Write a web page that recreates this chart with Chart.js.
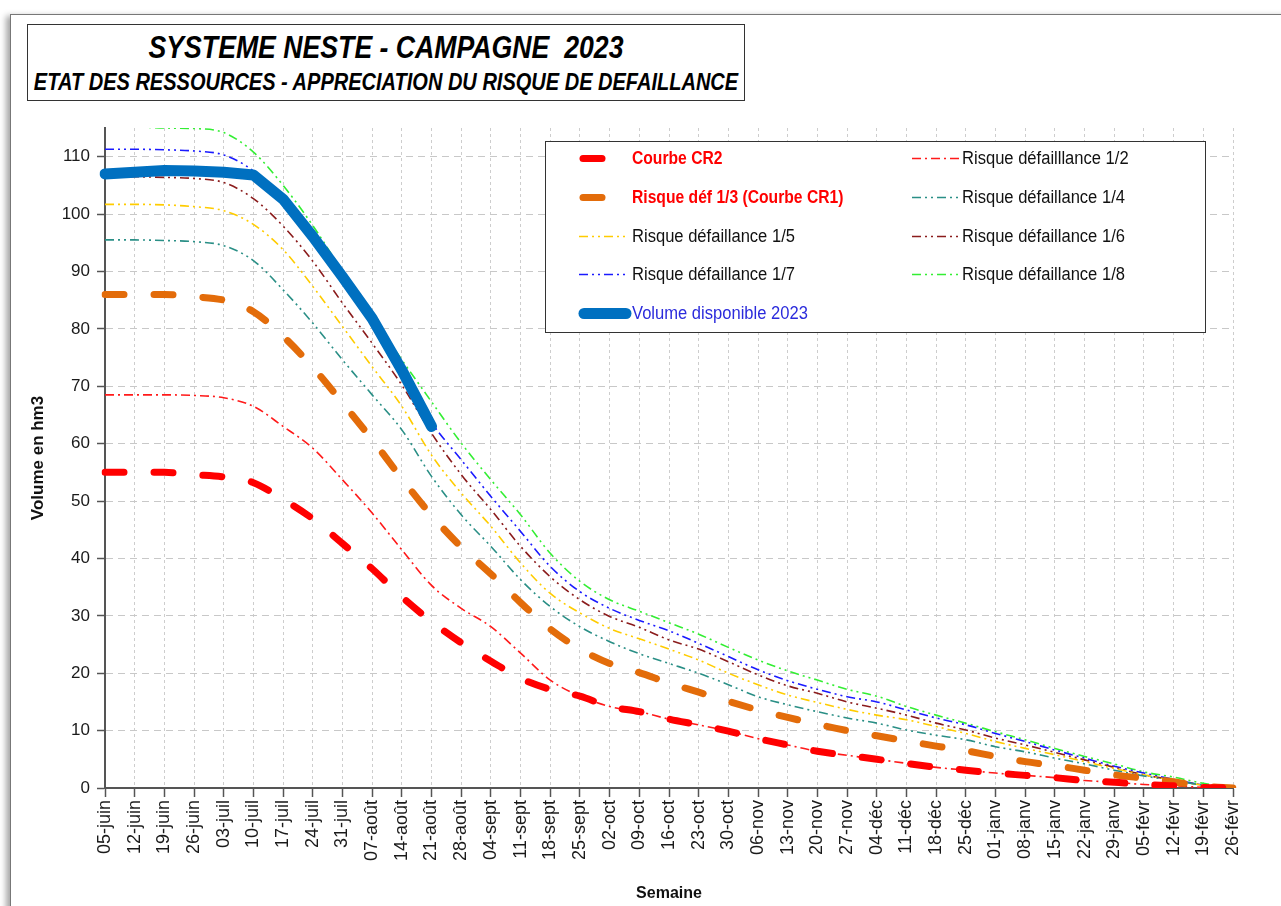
<!DOCTYPE html>
<html lang="fr">
<head>
<meta charset="utf-8">
<title>Système Neste - Campagne 2023</title>
<script src="https://cdn.jsdelivr.net/npm/chart.js@4.4.0/dist/chart.umd.min.js"></script>
<style>
  html, body { margin: 0; padding: 0; background: #fff; }
  body { width: 1281px; height: 906px; position: relative; overflow: hidden; }
  #frame { position: absolute; left: 10px; top: 14px; width: 1300px; height: 920px;
           border: 1px solid #777; box-shadow: -4px 2px 6px rgba(0,0,0,0.35); }
  #chartBox { position: absolute; left: 0; top: 0; width: 1281px; height: 906px; }
  #titleBox { position: absolute; left: 27px; top: 24px; width: 716px; height: 75px;
              border: 1px solid #333; background: #fff; color: #000;
              font-family: 'Liberation Sans', Arial, sans-serif;
              font-style: italic; font-weight: bold; }
  #titleBox div { position: absolute; left: 0; right: 0; white-space: nowrap; }
  #titleBox span { position: absolute; left: 50%; top: 0; transform-origin: 50% 50%; }
  #titleBox .l1 { top: 3px; height: 38px; line-height: 38px; font-size: 32px; }
  #titleBox .l2 { top: 42px; height: 30px; line-height: 30px; font-size: 24px; }
</style>
</head>
<body>
<div id="frame"></div>
<div id="chartBox"><canvas id="neste" width="1281" height="906"></canvas></div>
<div id="titleBox">
  <div class="l1"><span data-w="475">SYSTEME NESTE - CAMPAGNE&nbsp; 2023</span></div>
  <div class="l2"><span data-w="705">ETAT DES RESSOURCES - APPRECIATION DU RISQUE DE DEFAILLANCE</span></div>
</div>
<script>
// semaines (axe X)
const weeks = ['05-juin', '12-juin', '19-juin', '26-juin', '03-juil', '10-juil', '17-juil', '24-juil',
	'31-juil', '07-août', '14-août', '21-août', '28-août', '04-sept', '11-sept', '18-sept', '25-sept',
	'02-oct', '09-oct', '16-oct', '23-oct', '30-oct', '06-nov', '13-nov', '20-nov', '27-nov',
	'04-déc', '11-déc', '18-déc', '25-déc', '01-janv', '08-janv', '15-janv', '22-janv', '29-janv',
	'05-févr', '12-févr', '19-févr', '26-févr'];

const yTicks = [0, 10, 20, 30, 40, 50, 60, 70, 80, 90, 100, 110];

// volumes en hm3
const courbeCR2 = [55.0, 55.0, 55.0, 54.6, 54.2, 53.2, 50.3, 46.9, 42.6, 38.2, 33.3, 29.0, 25.3, 22.1,
	19.1, 17.2, 16.0, 14.2, 13.3, 12.0, 11.0, 9.9, 8.6, 7.5, 6.4, 5.7, 5.0, 4.3, 3.6, 3.1, 2.6, 2.2,
	1.8, 1.3, 1.0, 0.6, 0.4, 0.1, 0];
const risque12 = [68.5, 68.5, 68.5, 68.4, 68.0, 66.5, 63.0, 59.2, 53.7, 47.9, 41.5, 35.3, 31.3, 28.1,
	23.5, 18.8, 16.0, 14.2, 13.3, 12.0, 11.0, 9.9, 8.6, 7.5, 6.4, 5.7, 5.0, 4.3, 3.6, 3.1, 2.6, 2.2,
	1.8, 1.3, 1.0, 0.6, 0.4, 0.1, 0];
const courbeCR1 = [86.0, 86.0, 86.0, 85.6, 85.0, 83.0, 78.7, 73.3, 67.1, 60.7, 53.9, 47.5, 42.0, 37.3,
	32.3, 27.7, 24.2, 21.7, 20.1, 18.3, 16.7, 15.1, 13.6, 12.3, 11.1, 10.0, 9.1, 8.2, 7.3, 6.5, 5.5,
	4.6, 3.9, 3.1, 2.3, 1.7, 1.1, 0.3, 0];
const risque14 = [95.5, 95.5, 95.4, 95.2, 94.5, 91.9, 86.8, 81.0, 74.6, 68.5, 62.4, 54.3, 47.6, 42.1,
	36.3, 31.6, 28.1, 25.5, 23.4, 21.7, 20.0, 18.0, 15.9, 14.5, 13.3, 12.2, 11.3, 10.1, 9.2, 8.4, 7.2,
	6.3, 5.2, 4.2, 3.1, 2.1, 1.3, 0.5, 0];
const risque15 = [101.7, 101.7, 101.6, 101.3, 100.6, 98.2, 93.8, 87.4, 80.4, 73.4, 66.5, 58.0, 51.4,
	45.6, 39.2, 33.9, 30.5, 27.8, 26.0, 24.2, 22.3, 20.0, 18.0, 16.2, 14.9, 13.7, 12.7, 11.9, 10.7,
	9.5, 8.1, 6.9, 5.8, 4.6, 3.4, 2.3, 1.3, 0.5, 0];
const risque16 = [106.5, 106.5, 106.4, 106.2, 105.5, 102.7, 97.9, 91.8, 84.5, 77.5, 70.2, 61.8, 54.6,
	48.5, 42.1, 36.8, 32.8, 29.9, 28.0, 25.8, 24.2, 22.0, 19.7, 17.8, 16.5, 15.0, 13.9, 12.7, 11.3,
	10.1, 8.7, 7.5, 6.2, 4.9, 3.6, 2.3, 1.4, 0.5, 0];
const risque17 = [111.3, 111.3, 111.2, 111.0, 110.3, 107.5, 102.3, 96.0, 88.7, 81.0, 72.5, 63.7, 57.2,
	50.8, 44.7, 38.6, 34.2, 31.3, 29.2, 27.4, 25.2, 22.9, 20.6, 18.7, 17.2, 15.9, 15.0, 13.6, 12.2,
	11.0, 9.5, 8.1, 6.6, 5.2, 3.8, 2.6, 1.5, 0.5, 0];
const risque18 = [115.3, 115.2, 115.0, 114.9, 114.2, 110.8, 105.0, 98.0, 90.0, 82.2, 74.6, 67.3, 60.1,
	53.7, 47.6, 40.9, 36.0, 32.8, 30.8, 28.8, 26.8, 24.5, 22.3, 20.4, 18.8, 17.2, 16.0, 14.2, 12.7,
	11.3, 9.8, 8.4, 6.9, 5.5, 4.2, 2.8, 1.9, 0.8, 0];
const volume2023 = [107.0, 107.3, 107.6, 107.5, 107.3, 106.8, 102.6, 96.1, 89.1, 81.8, 72.8, 63.0];

const axisFont = "'Liberation Sans', Arial, sans-serif";
const dashDotDot = [9, 4, 2, 4, 2, 4];

// les titres sont resserrés pour imiter une police étroite
document.querySelectorAll('#titleBox span').forEach(el => {
	const target = Number(el.dataset.w);
	const sx = (target / el.offsetWidth).toFixed(3);
	el.style.transform = 'translateX(-50%) scaleX(' + sx + ')';
});

function thin(label, data, color, dash) {
	return {
		label, data,
		borderColor: color,
		borderWidth: 1.6,
		borderDash: dash,
		cubicInterpolationMode: 'monotone',
		pointRadius: 0,
		order: 2
	};
}

function thick(label, data, color) {
	return {
		label, data,
		borderColor: color,
		borderWidth: 7,
		borderDash: [19, 30],
		borderCapStyle: 'round',
		cubicInterpolationMode: 'monotone',
		pointRadius: 0,
		order: 1,
		legendColor: '#ff0000',
		legendBold: true
	};
}

// légende encadrée sur deux colonnes
const boxLegend = {
	id: 'boxLegend',
	afterDraw(chart) {
		const ctx = chart.ctx;
		ctx.save();
		ctx.fillStyle = '#fff';
		ctx.fillRect(545, 141, 660, 191);
		ctx.strokeStyle = '#333';
		ctx.lineWidth = 1;
		ctx.strokeRect(545.5, 141.5, 660, 191);

		chart.data.datasets.forEach((ds, i) => {
			const col = i % 2;
			const row = Math.floor(i / 2);
			const x0 = col ? 912 : 579;
			const y = Math.round(158 + row * 38.8) + 0.5;
			ctx.save();
			ctx.strokeStyle = ds.borderColor;
			ctx.lineWidth = ds.borderWidth;
			ctx.lineCap = ds.borderCapStyle || 'butt';
			ctx.setLineDash(ds.borderDash || []);
			ctx.beginPath();
			if (ds.borderWidth === 7) {
				ctx.moveTo(x0 + 4, y);
				ctx.lineTo(x0 + 26, y);
			} else if (ds.borderWidth > 7) {
				ctx.moveTo(x0 + 5, y);
				ctx.lineTo(x0 + 47, y);
			} else {
				ctx.moveTo(x0, y);
				ctx.lineTo(x0 + 50, y);
			}
			ctx.stroke();
			ctx.restore();

			ctx.save();
			ctx.translate(col ? 962 : 632, y);
			ctx.scale(ds.legendBold ? 0.87 : 0.92, 1);
			ctx.fillStyle = ds.legendColor || '#111';
			ctx.font = (ds.legendBold ? 'bold ' : '') + '18px ' + axisFont;
			ctx.textBaseline = 'middle';
			ctx.fillText(ds.label, 0, 1);
			ctx.restore();
		});
		ctx.restore();
	}
};

const ctx = document.getElementById('neste').getContext('2d');

// eslint-disable-next-line no-undef
new Chart(ctx, {
	type: 'line',
	data: {
		labels: weeks,
		datasets: [
			thick('Courbe CR2', courbeCR2, '#ff0000'),
			thin('Risque défailllance 1/2', risque12, '#ff1a1a', [9, 4, 2, 4]),
			thick('Risque déf 1/3 (Courbe CR1)', courbeCR1, '#e36c0a'),
			thin('Risque défaillance 1/4', risque14, '#2a8f86', dashDotDot),
			thin('Risque défaillance 1/5', risque15, '#ffcc00', dashDotDot),
			thin('Risque défaillance 1/6', risque16, '#8b1c1c', dashDotDot),
			thin('Risque défaillance 1/7', risque17, '#1a1aff', dashDotDot),
			thin('Risque défaillance 1/8', risque18, '#33ee33', dashDotDot),
			{
				label: 'Volume disponible 2023',
				data: volume2023,
				borderColor: '#0070c0',
				borderWidth: 11,
				borderJoinStyle: 'round',
				borderCapStyle: 'round',
				tension: 0,
				pointRadius: 0,
				order: 0,
				legendColor: '#2b2bdc'
			}
		]
	},
	options: {
		responsive: false,
		animation: false,
		events: [],
		layout: { padding: { left: 0, top: 128, right: 48, bottom: 0 } },
		scales: {
			x: {
				offset: false,
				grid: {
					color: '#cdcdcd',
					lineWidth: 1,
					tickLength: 9,
					tickColor: '#555',
					tickWidth: 1.5
				},
				border: { display: true, color: '#555', width: 2, dash: [3, 3] },
				ticks: {
					autoSkip: false,
					maxRotation: 90,
					minRotation: 90,
					padding: 3,
					color: '#1a1a1a',
					font: { family: axisFont, size: 18 }
				},
				title: {
					display: true,
					text: 'Semaine',
					color: '#111',
					font: { family: axisFont, size: 16, weight: 'bold' },
					padding: { top: 0, bottom: 3 }
				},
				afterFit(scale) { scale.height = 118; }
			},
			y: {
				min: 0,
				max: 115,
				grid: {
					color: '#c8c8c8',
					lineWidth: 1,
					tickLength: 8,
					tickColor: '#555',
					tickWidth: 1.5
				},
				border: { display: true, color: '#555', width: 2, dash: [7, 5] },
				ticks: {
					stepSize: 10,
					padding: 7,
					color: '#1a1a1a',
					font: { family: axisFont, size: 17 }
				},
				afterBuildTicks(scale) {
					scale.ticks = yTicks.map(v => ({ value: v }));
				},
				title: {
					display: true,
					text: 'Volume en hm3',
					color: '#111',
					font: { family: axisFont, size: 17, weight: 'bold' },
					padding: { top: 28, bottom: 0 }
				},
				afterFit(scale) { scale.width = 105; }
			}
		},
		plugins: {
			legend: { display: false },
			tooltip: { enabled: false }
		}
	},
	plugins: [boxLegend]
});
</script>
</body>
</html>
